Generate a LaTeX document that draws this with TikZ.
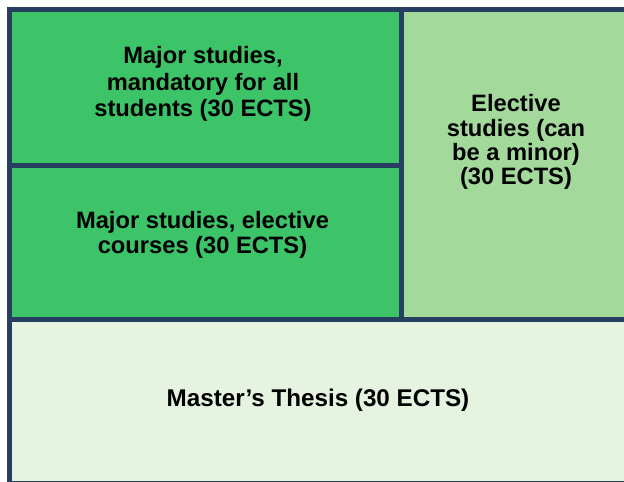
\documentclass[tikz,border=0pt]{standalone}
\usepackage{fontspec}
\setmainfont{Liberation Sans}
\definecolor{navy}{HTML}{263E5F}
\definecolor{darkgreen}{HTML}{3DC469}
\definecolor{midgreen}{HTML}{A3D99B}
\definecolor{palegreen}{HTML}{E5F3E0}
\tikzset{
  divider/.style={draw=navy, line width=5pt},
  label/.style={inner sep=0pt, align=center, font=\bfseries\fontsize{23.7}{26.5}\selectfont, text=black}
}
\begin{document}
\begin{tikzpicture}[x=1pt,y=-1pt]
\useasboundingbox (0,0) rectangle (624,482);
% fills
\fill[darkgreen] (9.2,9.5) rectangle (401,165);
\fill[darkgreen] (9.2,165) rectangle (401,319);
\fill[midgreen] (401,9.5) rectangle (630,319);
\fill[palegreen] (9.2,319) rectangle (630,483.5);
% borders
\draw[divider] (9.2,9.5) rectangle (630,483.5);
\draw[divider] (401,9.5) -- (401,319);
\draw[divider] (9.2,165) -- (401,165);
\draw[divider] (9.2,319) -- (630,319);
% texts
\node[label] (mandatory) at (203,84) {Major studies,\\mandatory for all\\students (30 ECTS)};
\node[label, font=\bfseries\fontsize{23.7}{25.5}\selectfont] (electivecourses) at (202.5,235) {Major studies, elective\\courses (30 ECTS)};
\node[label, font=\bfseries\fontsize{23.7}{24.2}\selectfont] (electivestudies) at (516,142) {Elective\\studies (can\\be a minor)\\(30 ECTS)};
\node[label, font=\bfseries\fontsize{24.2}{27}\selectfont] (thesis) at (318,400.5) {Master’s Thesis (30 ECTS)};
\end{tikzpicture}
\end{document}
